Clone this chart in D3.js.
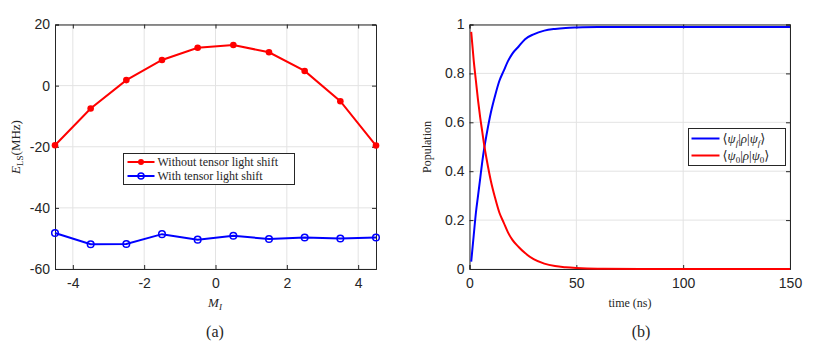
<!DOCTYPE html>
<html>
<head>
<meta charset="utf-8">
<script src="https://cdn.jsdelivr.net/npm/d3@7"></script>
<style>
  body { margin: 0; background: #fff; }
  svg { display: block; }
  .tick text { font-family: "Liberation Sans", Arial, sans-serif; font-size: 14px; fill: #262626; }
  .serif { font-family: "Liberation Serif", "DejaVu Serif", serif; fill: #262626; }
</style>
</head>
<body>
<svg width="830" height="343"></svg>
<script>
// panel (a): light shift vs M_I
const mI = [-4.5, -3.5, -2.5, -1.5, -0.5, 0.5, 1.5, 2.5, 3.5, 4.5];
const withoutTensor = [-19.5, -7.5, 1.8, 8.4, 12.4, 13.3, 10.9, 4.8, -5.1, -19.6];
const withTensor = [-48.2, -51.9, -51.8, -48.6, -50.4, -49.1, -50.2, -49.7, -50.0, -49.7];
const xTicksA = [-4, -2, 0, 2, 4];
const yTicksA = [20, 0, -20, -40, -60];

// panel (b): populations vs time (ns)
const time = [0.8, 2, 3, 4, 5, 6, 7, 8, 10, 12, 14, 16, 18, 20, 23, 26, 30, 35, 40, 45, 50, 60, 80, 100, 120, 150];
const popF = [0.03, 0.14, 0.23, 0.30, 0.37, 0.44, 0.50, 0.55, 0.64, 0.71, 0.77, 0.81, 0.85, 0.88, 0.91, 0.94, 0.96, 0.975, 0.982, 0.986, 0.988, 0.99, 0.99, 0.99, 0.99, 0.99];
const pop0 = [0.97, 0.85, 0.77, 0.69, 0.62, 0.56, 0.50, 0.45, 0.36, 0.29, 0.23, 0.19, 0.15, 0.12, 0.09, 0.065, 0.04, 0.022, 0.012, 0.007, 0.004, 0.001, 0, 0, 0, 0];
const xTicksB = [0, 50, 100, 150];
const yTicksB = [0, 0.2, 0.4, 0.6, 0.8, 1];

const svg = d3.select("svg");
const axisColor = "#262626";
const gridColor = "#e3e3e3";

function drawFrame(g, x, y, xt, yt, fmtY) {
    const [x0, x1] = x.range();
    const [y0, y1] = y.range();
    // grid
    g.append("g").selectAll("line").data(xt).join("line")
        .attr("x1", d => x(d)).attr("x2", d => x(d))
        .attr("y1", y1).attr("y2", y0)
        .attr("stroke", gridColor).attr("stroke-width", 1);
    g.append("g").selectAll("line").data(yt).join("line")
        .attr("x1", x0).attr("x2", x1)
        .attr("y1", d => y(d)).attr("y2", d => y(d))
        .attr("stroke", gridColor).attr("stroke-width", 1);

    const xa = g.append("g").attr("transform", `translate(0,${y0})`)
        .call(d3.axisBottom(x).tickValues(xt).tickSize(-4).tickPadding(9).tickFormat(d => d));
    const ya = g.append("g").attr("transform", `translate(${x0},0)`)
        .call(d3.axisLeft(y).tickValues(yt).tickSize(-4).tickPadding(5).tickFormat(fmtY));
    // top & right inner ticks
    g.append("g").attr("transform", `translate(0,${y1})`)
        .call(d3.axisTop(x).tickValues(xt).tickSize(-4).tickFormat(""));
    g.append("g").attr("transform", `translate(${x1},0)`)
        .call(d3.axisRight(y).tickValues(yt).tickSize(-4).tickFormat(""));
    g.selectAll(".domain").attr("stroke", axisColor);
    g.selectAll(".tick line").attr("stroke", axisColor);
    g.selectAll(".tick text").attr("fill", axisColor);
    g.selectAll("path.domain").attr("stroke-width", 1);
}

// ---------- panel (a)
const xA = d3.scaleLinear().domain([-4.5, 4.5]).range([55, 376]);
const yA = d3.scaleLinear().domain([-60, 20]).range([269, 24.5]);
const gA = svg.append("g");
drawFrame(gA, xA, yA, xTicksA, yTicksA, d => d);

const lineA = d3.line().x(d => xA(d[0])).y(d => yA(d[1]));
const redPts = mI.map((m, i) => [m, withoutTensor[i]]);
const bluePts = mI.map((m, i) => [m, withTensor[i]]);
gA.append("path").datum(redPts).attr("d", lineA)
    .attr("fill", "none").attr("stroke", "#ff0000").attr("stroke-width", 2);
gA.selectAll(".rdot").data(redPts).join("circle")
    .attr("cx", d => xA(d[0])).attr("cy", d => yA(d[1])).attr("r", 3.3)
    .attr("fill", "#ff0000");
gA.append("path").datum(bluePts).attr("d", lineA)
    .attr("fill", "none").attr("stroke", "#0000ff").attr("stroke-width", 2);
gA.selectAll(".bdot").data(bluePts).join("circle")
    .attr("cx", d => xA(d[0])).attr("cy", d => yA(d[1])).attr("r", 3.3)
    .attr("fill", "none").attr("stroke", "#0000ff").attr("stroke-width", 1.5);

// labels (a)
gA.append("text").attr("class", "serif")
    .attr("x", 215).attr("y", 307).attr("text-anchor", "middle")
    .attr("font-size", 13).attr("font-style", "italic")
    .text("M").append("tspan").attr("font-size", 9).attr("dy", 3).text("I");
const yl = gA.append("text").attr("class", "serif")
    .attr("transform", "translate(20,147) rotate(-90)")
    .attr("text-anchor", "middle").attr("font-size", 13);
yl.append("tspan").attr("font-style", "italic").text("E");
yl.append("tspan").attr("font-size", 9).attr("dy", 3).text("LS");
yl.append("tspan").attr("dy", -3).text("(MHz)");
gA.append("text").attr("class", "serif")
    .attr("x", 215).attr("y", 337).attr("text-anchor", "middle")
    .attr("font-size", 16).text("(a)");

// legend (a)
const legA = gA.append("g").attr("transform", "translate(123.5,153.5)");
legA.append("rect").attr("width", 171).attr("height", 31)
    .attr("fill", "#fff").attr("stroke", axisColor).attr("stroke-width", 1);
const legItemsA = [
    { label: "Without tensor light shift", color: "#ff0000", filled: true },
    { label: "With tensor light shift", color: "#0000ff", filled: false }
];
legItemsA.forEach((it, i) => {
    const cy = 8.5 + i * 14;
    legA.append("line").attr("x1", 4).attr("x2", 31).attr("y1", cy).attr("y2", cy)
        .attr("stroke", it.color).attr("stroke-width", 2);
    legA.append("circle").attr("cx", 17.5).attr("cy", cy).attr("r", 3)
        .attr("fill", it.filled ? it.color : "none")
        .attr("stroke", it.color).attr("stroke-width", it.filled ? 0 : 1.5);
    legA.append("text").attr("class", "serif").attr("x", 34).attr("y", cy + 4)
        .attr("font-size", 12).text(it.label);
});

// ---------- panel (b)
const xB = d3.scaleLinear().domain([0, 150]).range([469.5, 790]);
const yB = d3.scaleLinear().domain([0, 1]).range([269, 24.5]);
const gB = svg.append("g");
drawFrame(gB, xB, yB, xTicksB, yTicksB, d => d);

const lineB = d3.line().x(d => xB(d[0])).y(d => yB(d[1])).curve(d3.curveMonotoneX);
gB.append("path").datum(time.map((t, i) => [t, popF[i]])).attr("d", lineB)
    .attr("fill", "none").attr("stroke", "#0000ff").attr("stroke-width", 2);
gB.append("path").datum(time.map((t, i) => [t, pop0[i]])).attr("d", lineB)
    .attr("fill", "none").attr("stroke", "#ff0000").attr("stroke-width", 2);

gB.append("text").attr("class", "serif")
    .attr("x", 630).attr("y", 307).attr("text-anchor", "middle")
    .attr("font-size", 12).text("time (ns)");
gB.append("text").attr("class", "serif")
    .attr("transform", "translate(431,147) rotate(-90)")
    .attr("text-anchor", "middle").attr("font-size", 12).text("Population");
gB.append("text").attr("class", "serif")
    .attr("x", 641).attr("y", 337).attr("text-anchor", "middle")
    .attr("font-size", 16).text("(b)");

// legend (b)
const legB = gB.append("g").attr("transform", "translate(688.5,128.5)");
legB.append("rect").attr("width", 97).attr("height", 37)
    .attr("fill", "#fff").attr("stroke", axisColor).attr("stroke-width", 1);
const legItemsB = [
    { sub: "f", color: "#0000ff" },
    { sub: "0", color: "#ff0000" }
];
legItemsB.forEach((it, i) => {
    const cy = 10 + i * 17;
    legB.append("line").attr("x1", 3).attr("x2", 31).attr("y1", cy).attr("y2", cy)
        .attr("stroke", it.color).attr("stroke-width", 2);
    const t = legB.append("text").attr("class", "serif").attr("x", 34).attr("y", cy + 4)
        .attr("font-size", 13);
    t.append("tspan").text("\u27E8");
    t.append("tspan").attr("font-style", "italic").text("\u03C8");
    t.append("tspan").attr("font-size", 9).attr("dy", 3).attr("font-style", it.sub === "f" ? "italic" : "normal").text(it.sub);
    t.append("tspan").attr("dy", -3).text("|");
    t.append("tspan").attr("font-style", "italic").text("\u03C1");
    t.append("tspan").text("|");
    t.append("tspan").attr("font-style", "italic").text("\u03C8");
    t.append("tspan").attr("font-size", 9).attr("dy", 3).attr("font-style", it.sub === "f" ? "italic" : "normal").text(it.sub);
    t.append("tspan").attr("dy", -3).text("\u27E9");
});
</script>
</body>
</html>
